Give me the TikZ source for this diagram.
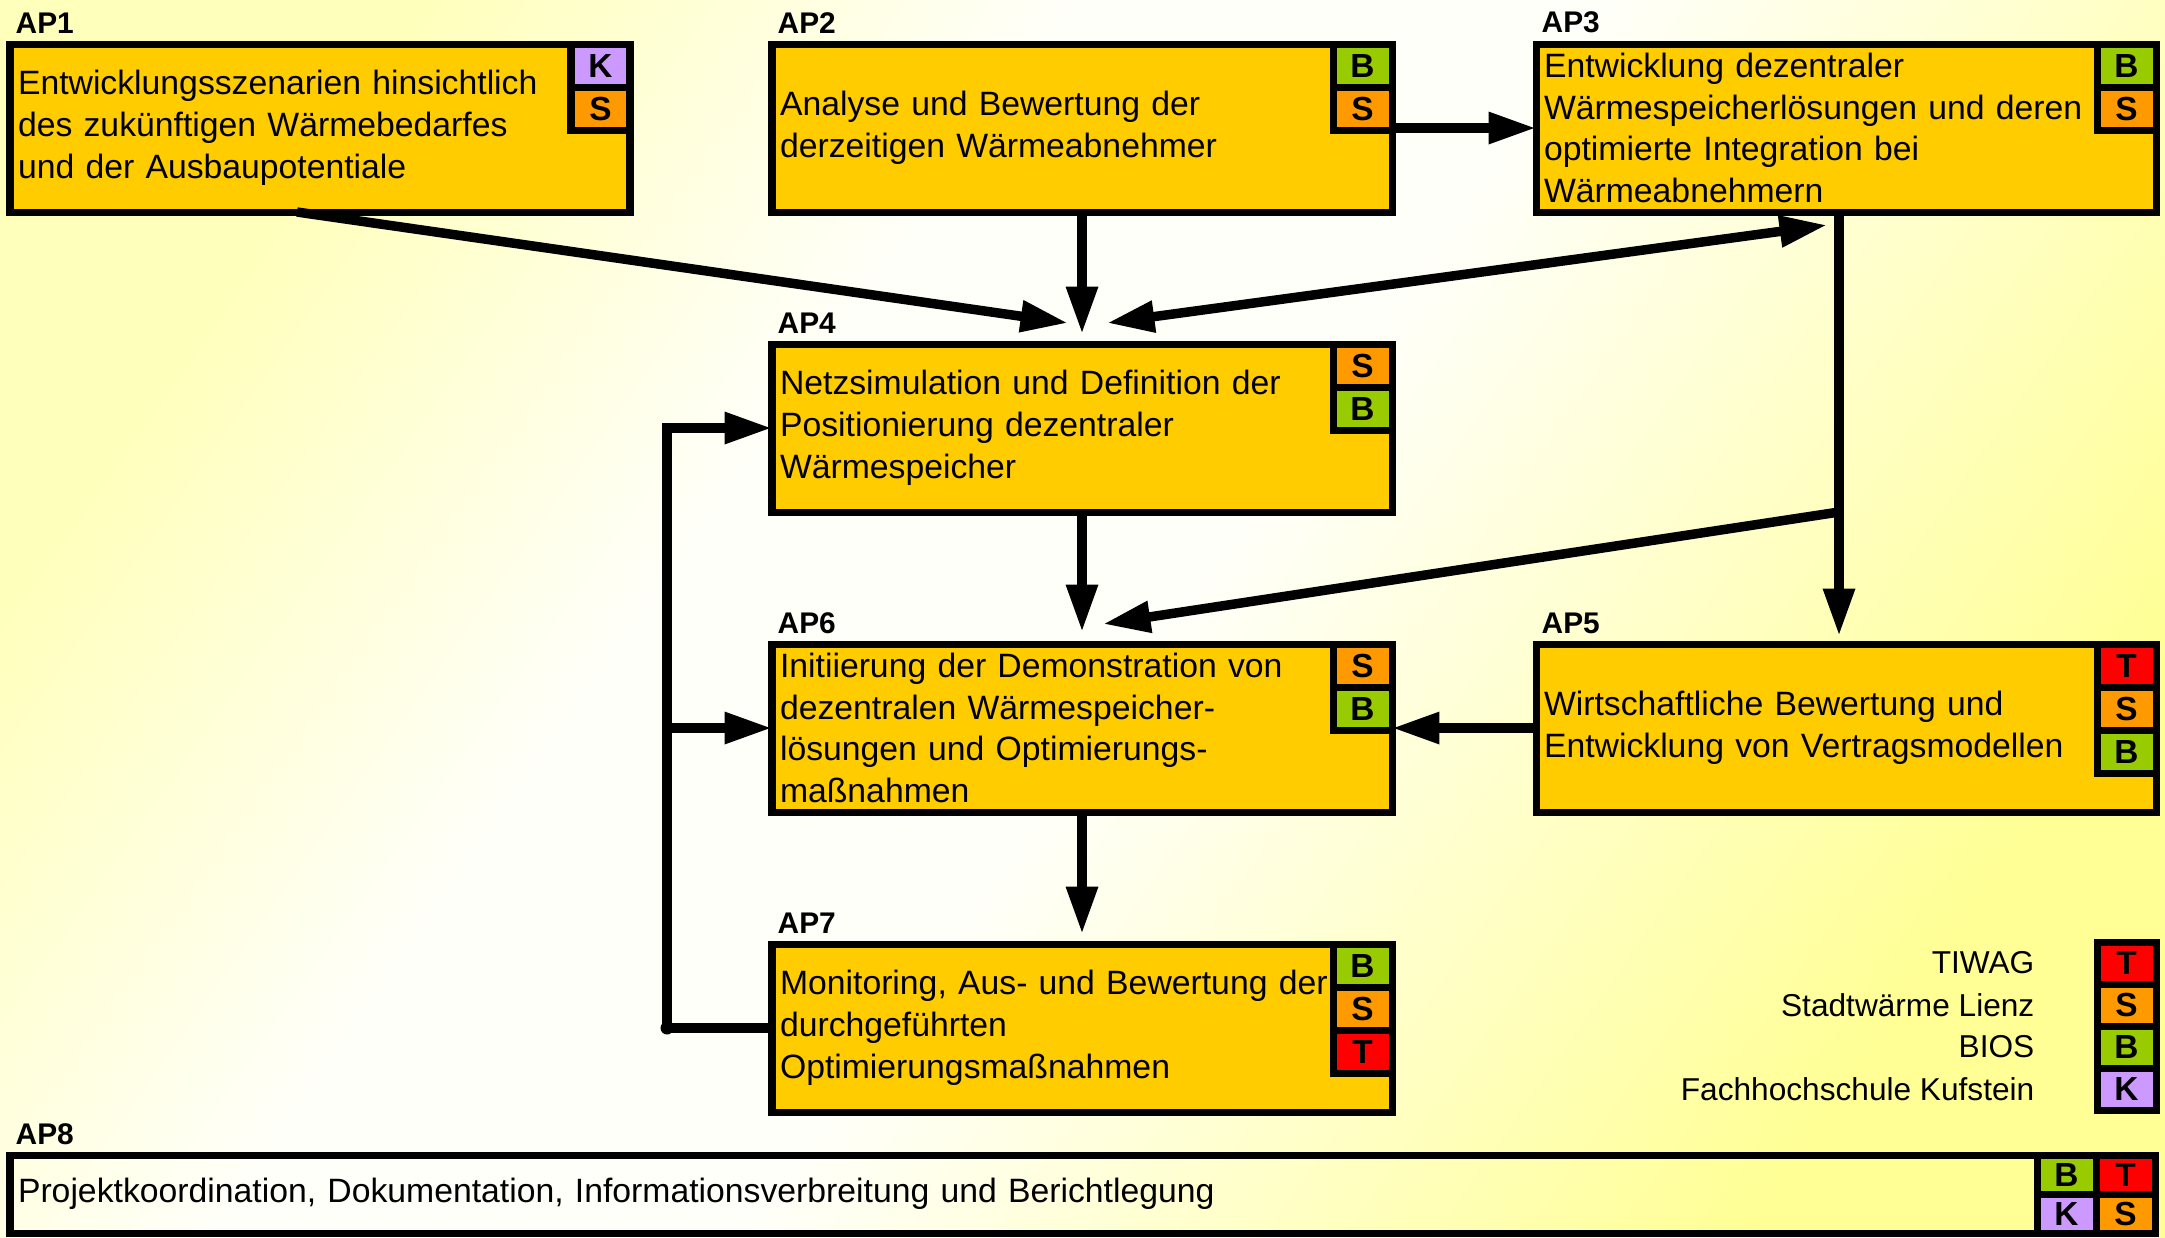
\documentclass[tikz,border=0pt]{standalone}
\usepackage{fontspec}
\setmainfont{Liberation Sans}
\usetikzlibrary{positioning,arrows.meta}

\definecolor{boxfill}{HTML}{FFCC00}
\definecolor{colT}{HTML}{FF0000}
\definecolor{colS}{HTML}{FF9900}
\definecolor{colB}{HTML}{99CC00}
\definecolor{colK}{HTML}{CC99FF}
\definecolor{bgyellow}{HTML}{FFFF96}
\definecolor{bgpale}{HTML}{FFFFBC}
\definecolor{bgwhite}{HTML}{FFFFFA}

\pgfdeclarehorizontalshading{wash}{100bp}{color(0bp)=(bgpale); color(25bp)=(bgpale);
  color(40bp)=(bgwhite); color(52bp)=(bgwhite); color(75bp)=(bgyellow); color(100bp)=(bgyellow)}

\tikzset{fat/.tip={Triangle[length=13.5pt,width=8.5pt]}}

% partner badges stacked at the upper right corner of a box
\newcommand\partners[2]{%
  \foreach \p [count=\i] in {#2}
    \node[partner=\p, anchor=north east] (#1-\p) at ([yshift={-(\i-1)*0.43cm}]#1.north east) {\p};}

\begin{document}
\begin{tikzpicture}[node distance=1.32cm and 1.43cm,
    wp/.style={draw, line width=2pt, fill=boxfill, outer sep=0pt,
      text width=6.04cm, inner xsep=0.08cm, inner ysep=0pt,
      minimum height=1.68cm, align=left, font=\fontsize{9.6}{11.9}\selectfont},
    apname/.style={anchor=south west, inner sep=0pt, font=\bfseries\fontsize{8.5}{9}\selectfont},
    partner/.style={draw, line width=2pt, fill=col#1, outer sep=0pt, inner sep=0pt,
      minimum width=0.59cm, minimum height=0.43cm, font=\bfseries\fontsize{9.5}{10}\selectfont},
    keytext/.style={inner sep=0pt, font=\fontsize{9}{11}\selectfont},
    link/.style={line width=2.7pt, -fat}]

  %Background%
  \shade[shading=wash, shading angle=-35] (0,0) rectangle (21.65,-12.37);
  \useasboundingbox (0,0) rectangle (21.65,-12.37);

  %Work packages%
  \node[wp, anchor=north west] (AP1) at (0.10,-0.44)
    {Entwicklungsszenarien hinsichtlich\\des zukünftigen Wärmebedarfes\\und der Ausbaupotentiale};
  \node[wp, right=1.42cm of AP1] (AP2)
    {Analyse und Bewertung der\\derzeitigen Wärmeabnehmer};
  \node[wp, right=1.44cm of AP2] (AP3)
    {Entwicklung dezentraler\\Wärmespeicherlösungen und deren\\optimierte Integration bei\\Wärmeabnehmern};
  \node[wp, below=of AP2] (AP4)
    {Netzsimulation und Definition der\\Positionierung dezentraler\\Wärmespeicher};
  \node[wp, below=of AP4] (AP6)
    {Initiierung der Demonstration von\\dezentralen Wärmespeicher-\\lösungen und Optimierungs-\\maßnahmen};
  \node[wp, right=1.44cm of AP6] (AP5)
    {Wirtschaftliche Bewertung und\\Entwicklung von Vertragsmodellen};
  \node[wp, below=of AP6] (AP7)
    {Monitoring, Aus- und Bewertung der\\durchgeführten\\Optimierungsmaßnahmen};
  \node[wp, fill=none, anchor=north west, text width=21.29cm, minimum height=0.78cm] (AP8) at (0.10,-11.55)
    {Projektkoordination, Dokumentation, Informationsverbreitung und Berichtlegung};

  \foreach \b in {AP1,AP2,AP3,AP4,AP5,AP6,AP7,AP8}
    \node[apname] (\b-name) at ([shift={(0.05,0.1)}]\b.north west) {\b};

  %Partners%
  \partners{AP1}{K,S}
  \partners{AP2}{B,S}
  \partners{AP3}{B,S}
  \partners{AP4}{S,B}
  \partners{AP6}{S,B}
  \partners{AP5}{T,S,B}
  \partners{AP7}{B,S,T}
  \node[partner=T, anchor=north east, minimum height=0.39cm] (AP8-T) at (AP8.north east) {T};
  \node[partner=S, minimum height=0.39cm, below=0pt of AP8-T] (AP8-S) {S};
  \node[partner=B, minimum height=0.39cm, left=0pt of AP8-T] (AP8-B) {B};
  \node[partner=K, minimum height=0.39cm, below=0pt of AP8-B] (AP8-K) {K};

  %Legend%
  \coordinate (legend) at (21.56,-9.42);
  \foreach \p/\name [count=\i] in {T/TIWAG, S/Stadtwärme Lienz, B/BIOS, K/Fachhochschule Kufstein} {
    \node[partner=\p, anchor=north east, minimum height=0.42cm] (key-\p) at ([yshift={-(\i-1)*0.42cm}]legend) {\p};
    \node[keytext, left=0.62cm of key-\p] (keytext-\p) {\name};
  }

  %Connectors%
  \coordinate (ap3out) at ([xshift=-0.07cm]AP3.south);
  \coordinate (fork) at (ap3out |- AP4.south);
  \coordinate (loop) at ([xshift=-1.05cm]AP7.west);
  \draw[link] (AP2) -- (AP3);
  \draw[link] ([xshift=-0.23cm]AP1.south) -- ([shift={(-0.14,0.21)}]AP4.north);
  \draw[link] (AP2) -- ([yshift=0.1cm]AP4.north);
  \draw[link, fat-fat] ([shift={(0.25,0.21)}]AP4.north) -- ([shift={(-0.12,-0.13)}]ap3out);
  \draw[link] (ap3out) -- ([yshift=0.08cm]AP5.north -| ap3out);
  \draw[link] (fork) -- ([shift={(0.21,0.2)}]AP6.north);
  \draw[link] (AP4) -- ([yshift=0.12cm]AP6.north);
  \draw[link] (AP5) -- (AP6);
  \draw[link] (AP6) -- ([yshift=0.1cm]AP7.north);
  \draw[line width=2.7pt] (AP7.west) -- (loop);
  \fill (loop) circle (0.065);
  \draw[link] (loop) -- (loop |- AP4.west) -- (AP4.west);
  \draw[link] (loop |- AP6.west) -- (AP6.west);
\end{tikzpicture}
\end{document}
